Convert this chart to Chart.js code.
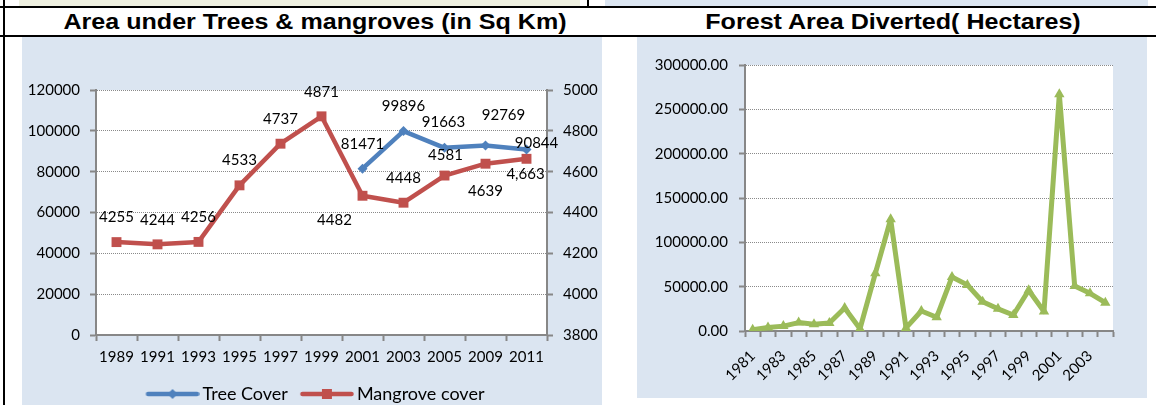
<!DOCTYPE html>
<html>
<head>
<meta charset="utf-8">
<script src="https://cdn.jsdelivr.net/npm/chart.js@4.4.0/dist/chart.umd.min.js"></script>
<style>
  html, body { margin: 0; padding: 0; background: #fff; width: 1156px; height: 405px; overflow: hidden; }
  .abs { position: absolute; }
  .hline { position: absolute; left: 0; width: 1156px; height: 2px; background: #000; }
  .title { position: absolute; top: 9px; font: bold 22px "Liberation Sans", Arial, sans-serif; color: #000;
           white-space: nowrap; transform: translateX(-50%) scaleX(1.14); }
  .panel { position: absolute; background: #dbe5f1; }
  canvas { display: block; }
</style>
</head>
<body>
<!-- table cells / borders of the surrounding document -->
<div class="abs" style="left:19px;top:0;width:561px;height:6px;background:#eef0e0"></div>
<div class="abs" style="left:605px;top:0;width:543px;height:6px;background:#dbe5f1"></div>
<div class="abs" style="left:587px;top:0;width:2px;height:7px;background:#000"></div>
<div class="abs" style="left:3px;top:0;width:2px;height:405px;background:#000"></div>
<div class="hline" style="top:6px"></div>
<div class="hline" style="top:35px"></div>
<div class="title" style="left:315px">Area under Trees &amp; mangroves (in Sq Km)</div>
<div class="title" style="left:893px">Forest Area Diverted( Hectares)</div>

<div class="panel" style="left:22px;top:37px;width:580px;height:368px">
  <canvas id="chart-cover" width="580" height="368"></canvas>
</div>
<div class="panel" style="left:637px;top:37px;width:510px;height:361px">
  <canvas id="chart-diverted" width="510" height="361"></canvas>
</div>

<script>
// ---- left chart: area under trees & mangroves ----
const coverYears = ["1989", "1991", "1993", "1995", "1997", "1999", "2001", "2003", "2005", "2009", "2011"];
const treeCover = [null, null, null, null, null, null, 81471, 99896, 91663, 92769, 90844];
const mangroveCover = [4255, 4244, 4256, 4533, 4737, 4871, 4482, 4448, 4581, 4639, 4663];

// ---- right chart: forest area diverted ----
const divertYears = ["1981", "1982", "1983", "1984", "1985", "1986", "1987", "1988", "1989", "1990", "1991", "1992",
                     "1993", "1994", "1995", "1996", "1997", "1998", "1999", "2000", "2001", "2002", "2003", "2004"];
const divertedArea = [1500, 4000, 5500, 9500, 7500, 9000, 26000, 2500, 65000, 126000, 3500, 22500,
                      15500, 61000, 52000, 33000, 25000, 18000, 46000, 22000, 267000, 50800, 42500, 32000];

// where each data label sits relative to its point (dx, dy in px)
const treeLabelShift = [null, null, null, null, null, null, [0, -25], [0, -25], [-1, -26], [18, -30], [10, -6]];
const mangroveLabelShift = [[0, -25], [0, -24], [0, -25], [0, -25], [0, -25], [0, -24], [-28, 24], [0, -25], [1, -20], [0, 27], [-1, 15]];

const BLUE = "#4f81bd", RED = "#c0504d", GREEN = "#9bbb59";
const AXIS = "#878787", GRID = "#8a8a8a";
const FONT = "Lato";

const plotBg = {
  id: "plotBg",
  beforeDraw(chart) {
    const { ctx, chartArea: a } = chart;
    ctx.save();
    ctx.fillStyle = "#fff";
    ctx.fillRect(a.left, a.top, a.right - a.left, a.bottom - a.top);
    ctx.restore();
  }
};

const pointLabels = {
  id: "pointLabels",
  afterDatasetsDraw(chart) {
    const ctx = chart.ctx;
    ctx.save();
    ctx.font = "15px " + FONT;
    ctx.fillStyle = "#000";
    ctx.textAlign = "center";
    ctx.textBaseline = "middle";
    chart.data.datasets.forEach((ds, di) => {
      if (!ds.labelText) return;
      chart.getDatasetMeta(di).data.forEach((pt, i) => {
        const txt = ds.labelText[i];
        if (txt == null || pt.skip) return;
        const [dx, dy] = ds.labelShift[i];
        ctx.fillText(txt, pt.x + dx, pt.y + dy);
      });
    });
    ctx.restore();
  }
};

// push the legend a bit lower, as in the Excel original
const legendNudge = {
  id: "legendNudge",
  afterLayout(chart) {
    if (chart.legend) { chart.legend.top += 8; chart.legend.bottom += 8; }
  }
};

// little "line + marker" pictures for the legend (line sits in the right part of the image)
function legendSample(color, marker) {
  const c = document.createElement("canvas");
  c.width = 66; c.height = 14;
  const g = c.getContext("2d");
  g.strokeStyle = color; g.fillStyle = color;
  g.lineWidth = 4.5; g.lineCap = "round";
  g.beginPath(); g.moveTo(14.5, 7); g.lineTo(63.5, 7); g.stroke();
  g.beginPath();
  if (marker === "diamond") { g.moveTo(39, 2); g.lineTo(44, 7); g.lineTo(39, 12); g.lineTo(34, 7); }
  else { g.rect(34, 2, 10, 10); }
  g.fill();
  return c;
}

function drawCharts() {
  const tickFont = { family: FONT, size: 15 };
  const samples = [legendSample(BLUE, "diamond"), legendSample(RED, "square")];

  new Chart(document.getElementById("chart-cover"), {
    type: "line",
    data: {
      labels: coverYears,
      datasets: [
        { label: "Tree Cover", data: treeCover, yAxisID: "y", borderColor: BLUE, backgroundColor: BLUE,
          borderWidth: 4.5, borderJoinStyle: "round", pointStyle: "rectRot", pointRadius: 5, pointBorderWidth: 0,
          labelText: treeCover.map(v => v == null ? null : String(v)), labelShift: treeLabelShift },
        { label: "Mangrove cover", data: mangroveCover, yAxisID: "y1", borderColor: RED, backgroundColor: RED,
          borderWidth: 4.5, borderJoinStyle: "round", pointStyle: "rect", pointRadius: 7, pointBorderWidth: 0,
          labelText: mangroveCover.map((v, i) => i === mangroveCover.length - 1 ? v.toLocaleString("en-US") : String(v)),
          labelShift: mangroveLabelShift }
      ]
    },
    options: {
      responsive: false, animation: false,
      layout: { padding: { top: 53, left: 0, right: 0, bottom: 0 } },
      plugins: {
        tooltip: { enabled: false },
        legend: {
          position: "bottom",
          labels: {
            usePointStyle: true, pointStyleWidth: 54, padding: 6, color: "#000", font: { family: FONT, size: 18 },
            generateLabels(chart) {
              const items = Chart.defaults.plugins.legend.labels.generateLabels(chart);
              items.forEach((it, i) => { it.pointStyle = samples[i]; });
              return items;
            }
          }
        }
      },
      scales: {
        x: {
          offset: true,
          grid: { offset: true, drawOnChartArea: false, tickLength: 6, tickColor: AXIS, tickWidth: 2 },
          border: { color: AXIS, width: 2 },
          ticks: { font: tickFont, color: "#000", padding: 7, maxRotation: 0, autoSkip: false },
          afterFit(s) { s.height = 36; }
        },
        y: {
          position: "left", min: 0, max: 120000,
          grid: { color: GRID, lineWidth: 1, tickColor: AXIS, tickWidth: 2, tickLength: 6 },
          border: { color: AXIS, width: 2, dash: [1, 1] },
          ticks: { stepSize: 20000, font: tickFont, color: "#000", padding: 10, callback: v => String(v) },
          afterFit(s) { s.width = 74; }
        },
        y1: {
          position: "right", min: 3800, max: 5000,
          grid: { drawOnChartArea: false, tickColor: AXIS, tickWidth: 2, tickLength: 6 },
          border: { color: AXIS, width: 2 },
          ticks: { stepSize: 200, font: tickFont, color: "#000", padding: 10, callback: v => String(v) },
          afterFit(s) { s.width = 55; }
        }
      }
    },
    plugins: [plotBg, pointLabels, legendNudge]
  });

  new Chart(document.getElementById("chart-diverted"), {
    type: "line",
    data: {
      labels: divertYears,
      datasets: [{ label: "Forest Area Diverted", data: divertedArea, borderColor: GREEN, backgroundColor: GREEN,
        borderWidth: 5, borderJoinStyle: "round", pointStyle: "triangle", pointRadius: 6, pointBorderWidth: 0 }]
    },
    options: {
      responsive: false, animation: false,
      layout: { padding: { top: 28, right: 34, left: 0, bottom: 0 } },
      plugins: { legend: { display: false }, tooltip: { enabled: false } },
      scales: {
        x: {
          offset: true,
          grid: { offset: true, drawOnChartArea: false, tickLength: 6, tickColor: AXIS, tickWidth: 2 },
          border: { color: AXIS, width: 2 },
          ticks: {
            font: tickFont, color: "#000", padding: 10, minRotation: 45, maxRotation: 45, autoSkip: false,
            callback(v, i) { return i % 2 ? "" : this.getLabelForValue(v); }
          },
          afterFit(s) { s.height = 67; }
        },
        y: {
          min: 0, max: 300000,
          grid: { color: GRID, lineWidth: 1, tickColor: AXIS, tickWidth: 2, tickLength: 6 },
          border: { color: AXIS, width: 2, dash: [1, 1] },
          ticks: { stepSize: 50000, font: tickFont, color: "#000", padding: 11, callback: v => v.toFixed(2) },
          afterFit(s) { s.width = 108; }
        }
      }
    },
    plugins: [plotBg]
  });
}

Promise.all([document.fonts.load("15px Lato"), document.fonts.load("18px Lato")])
  .catch(() => {})
  .then(drawCharts);
</script>
</body>
</html>
